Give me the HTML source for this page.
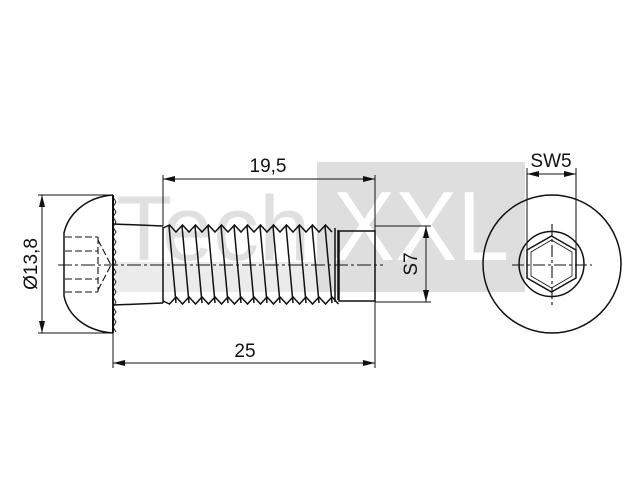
<!DOCTYPE html>
<html><head><meta charset="utf-8"><style>
html,body{margin:0;padding:0;background:#fff;}
svg{display:block;}
text{font-family:"Liberation Sans",Arial,sans-serif;fill:#111;}
</style></head><body>
<svg width="640" height="480" viewBox="0 0 640 480" xmlns="http://www.w3.org/2000/svg">
<!-- watermark -->
<rect x="317" y="162" width="208" height="130" fill="#dedede"/>
<rect x="115" y="262" width="202" height="30" fill="#ebebeb"/>
<text x="116" y="260" font-size="92" style="fill:#e0e0e0">Tech</text>
<text x="333" y="260" font-size="98" textLength="176" lengthAdjust="spacingAndGlyphs" style="fill:#fff">XXL</text>

<g stroke="#111" stroke-width="1.5" fill="none">
<!-- head -->
<path d="M113,195 C85,197 68,215 64,233 L64,296 C68,315 85,331 113,333"/>
<path d="M113,195 L113,333" stroke-width="2"/>
<path d="M113,197 l3,5 -3,5 3,5 -3,5 3,5 -3,5 3,5 -3,5 3,5 -3,5 3,5 -3,5 3,5 -3,5 3,5 -3,5 3,5 -3,5 3,5 -3,5 3,5 -3,5 3,5 -3,5 3,5 -3,5 3,5" stroke-width="0.9"/>
<!-- socket hidden -->
<g stroke-dasharray="7,3" stroke-width="1.1">
<line x1="65" y1="237" x2="98" y2="237"/><line x1="65" y1="251" x2="98" y2="251"/>
<line x1="65" y1="279" x2="98" y2="279"/><line x1="65" y1="292" x2="98" y2="292"/>
<line x1="98" y1="237" x2="98" y2="292"/>
<line x1="98" y1="240" x2="111" y2="265"/><line x1="98" y1="290" x2="111" y2="265"/>
</g>
<!-- shank -->
<path d="M113,224 L163,226 M113,305 L163,303"/>
<!-- thread -->
<path d="M163,228 l6.5,-3 6.5,7 6.5,-7 6.5,7 6.5,-7 6.5,7 6.5,-7 6.5,7 6.5,-7 6.5,7 6.5,-7 6.5,7 6.5,-7 6.5,7 6.5,-7 6.5,7 6.5,-7 6.5,7 6.5,-7 6.5,7 6.5,-7 6.5,7 6.5,-7 6.5,7 6.5,-7 6.5,7"/>
<path d="M163,301 l6.5,3 6.5,-7 6.5,7 6.5,-7 6.5,7 6.5,-7 6.5,7 6.5,-7 6.5,7 6.5,-7 6.5,7 6.5,-7 6.5,7 6.5,-7 6.5,7 6.5,-7 6.5,7 6.5,-7 6.5,7 6.5,-7 6.5,7 6.5,-7 6.5,7 6.5,-7 6.5,7 6.5,-7 6.5,7"/>
<path d="M163,227 L163,303 M335,228 L335,302 M338,230 L338,300"/>
<path d="M169,226 L176,303 M182,226 L189,303 M195,226 L202,303 M208,226 L215,303 M221,226 L228,303 M234,226 L241,303 M247,226 L254,303 M260,226 L267,303 M273,226 L280,303 M286,226 L293,303 M299,226 L306,303 M312,226 L319,303 M325,226 L332,303"/>
<rect x="339" y="231" width="36" height="70"/>
<!-- centerline -->
<line x1="58" y1="265" x2="383" y2="265" stroke-width="1" stroke-dasharray="14,3,3,3"/>
<!-- dims -->
<g stroke-width="1">
<line x1="163" y1="175" x2="163" y2="226"/><line x1="375" y1="175" x2="375" y2="231"/>
<line x1="163" y1="179" x2="375" y2="179"/>
<line x1="113" y1="333" x2="113" y2="368"/><line x1="375" y1="301" x2="375" y2="368"/>
<line x1="113" y1="363" x2="375" y2="363"/>
<line x1="38" y1="195" x2="113" y2="195"/><line x1="38" y1="333" x2="113" y2="333"/>
<line x1="42" y1="195" x2="42" y2="333"/>
<line x1="375" y1="226" x2="431" y2="226"/><line x1="375" y1="302" x2="431" y2="302"/>
<line x1="426" y1="226" x2="426" y2="302"/>
<line x1="527" y1="168" x2="527" y2="268"/><line x1="576" y1="168" x2="576" y2="268"/>
<line x1="527" y1="174" x2="576" y2="174"/>
</g>
<!-- right view -->
<circle cx="552" cy="264" r="69"/>
<circle cx="551.5" cy="264" r="32.5"/>
<path d="M551.5,236 L576,250 L576,278 L551.5,292 L527,278 L527,250 Z"/>
<path d="M551.5,240 L572,252 L572,276 L551.5,288 L531,276 L531,252 Z" stroke-width="0.8"/>
<g stroke-width="1.1">
<line x1="552" y1="224" x2="552" y2="305" stroke-dasharray="12,3,3,3"/>
<line x1="512" y1="265" x2="592" y2="265" stroke-dasharray="12,3,3,3"/>
</g>
</g>
<!-- arrowheads -->
<g fill="#111">
<path d="M163,179 l12,-3 0,6z"/><path d="M375,179 l-12,-3 0,6z"/>
<path d="M113,363 l12,-3 0,6z"/><path d="M375,363 l-12,-3 0,6z"/>
<path d="M42,195 l-3,12 6,0z"/><path d="M42,333 l-3,-12 6,0z"/>
<path d="M426,226 l-3,12 6,0z"/><path d="M426,302 l-3,-12 6,0z"/>
<path d="M527,174 l12,-3 0,6z"/><path d="M576,174 l-12,-3 0,6z"/>
</g>
<text x="268" y="172" font-size="19" text-anchor="middle">19,5</text>
<text x="245" y="357" font-size="19" text-anchor="middle">25</text>
<text x="551" y="167" font-size="19" text-anchor="middle">SW5</text>
<text transform="translate(37,264) rotate(-90)" font-size="19" text-anchor="middle">Ø13,8</text>
<text transform="translate(417,264) rotate(-90)" font-size="19" text-anchor="middle">S7</text>
</svg>
</body></html>
